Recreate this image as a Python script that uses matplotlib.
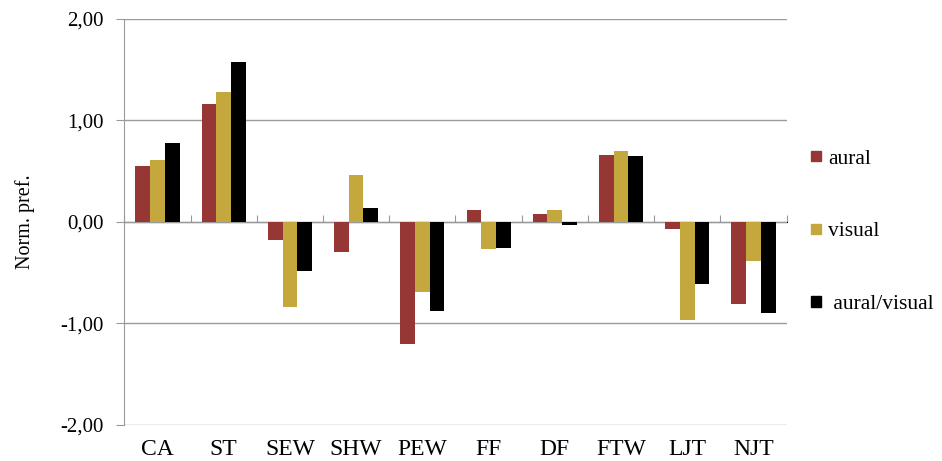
import numpy as np
import matplotlib
matplotlib.use("Agg")
from matplotlib import pyplot as plt
from matplotlib.patches import Patch
from matplotlib.ticker import FuncFormatter

plt.rcParams['font.family'] = ['Liberation Serif', 'DejaVu Serif']

# data
categories = ['CA', 'ST', 'SEW', 'SHW', 'PEW', 'FF', 'DF', 'FTW', 'LJT', 'NJT']
aural = [0.55, 1.16, -0.18, -0.30, -1.20, 0.12, 0.08, 0.66, -0.07, -0.81]
visual = [0.61, 1.28, -0.84, 0.46, -0.69, -0.27, 0.12, 0.70, -0.97, -0.39]
aural_visual = [0.78, 1.57, -0.48, 0.14, -0.88, -0.26, -0.03, 0.65, -0.61, -0.90]
series_names = ['aural', 'visual', ' aural/visual']
y_ticks = [-2, -1, 0, 1, 2]

colors = ['#963735', '#C4A83E', '#000000']
grid_col = '#9a9a9a'

fig = plt.figure(figsize=(9.42, 4.61), dpi=100)
ax = fig.add_axes([0.132, 0.078, 0.703, 0.8814])

x = np.arange(len(categories))
w = 0.222
for i, vals in enumerate([aural, visual, aural_visual]):
    ax.bar(x + (i - 1) * w, vals, w, color=colors[i], zorder=3)

ax.set_xlim(-0.5, len(categories) - 0.5)
ax.set_ylim(-2, 2)
ax.set_yticks(y_ticks)
ax.yaxis.set_major_formatter(FuncFormatter(lambda v, p: ('%.2f' % v).replace('.', ',')))
ax.grid(axis='y', color=grid_col, linewidth=1, zorder=0)

for s in ['top', 'right', 'bottom']:
    ax.spines[s].set_visible(False)
ax.spines['left'].set_color(grid_col)
ax.tick_params(axis='y', length=6, color=grid_col, labelsize=15, pad=9)

ax.set_xticks(x)
ax.set_xticklabels(categories)
ax.tick_params(axis='x', length=0, labelsize=17, pad=10)

# category axis drawn at zero with boundary tick marks
sec = ax.secondary_xaxis(0.5)
sec.set_xticks(np.arange(len(categories) + 1) - 0.5)
sec.set_xticklabels([])
sec.spines['bottom'].set_color(grid_col)
sec.tick_params(axis='x', direction='out', length=5, color=grid_col)

ax.set_ylabel('Norm. pref.', fontsize=14.5, labelpad=18)

handles = [Patch(color=c) for c in colors]
fig.legend(handles, series_names, loc='center left', bbox_to_anchor=(0.84, 0.497),
           frameon=False, fontsize=15.5, handlelength=0.5, handleheight=0.35,
           handletextpad=0.3, labelspacing=2.5)

fig.savefig('out.png', dpi=100)
